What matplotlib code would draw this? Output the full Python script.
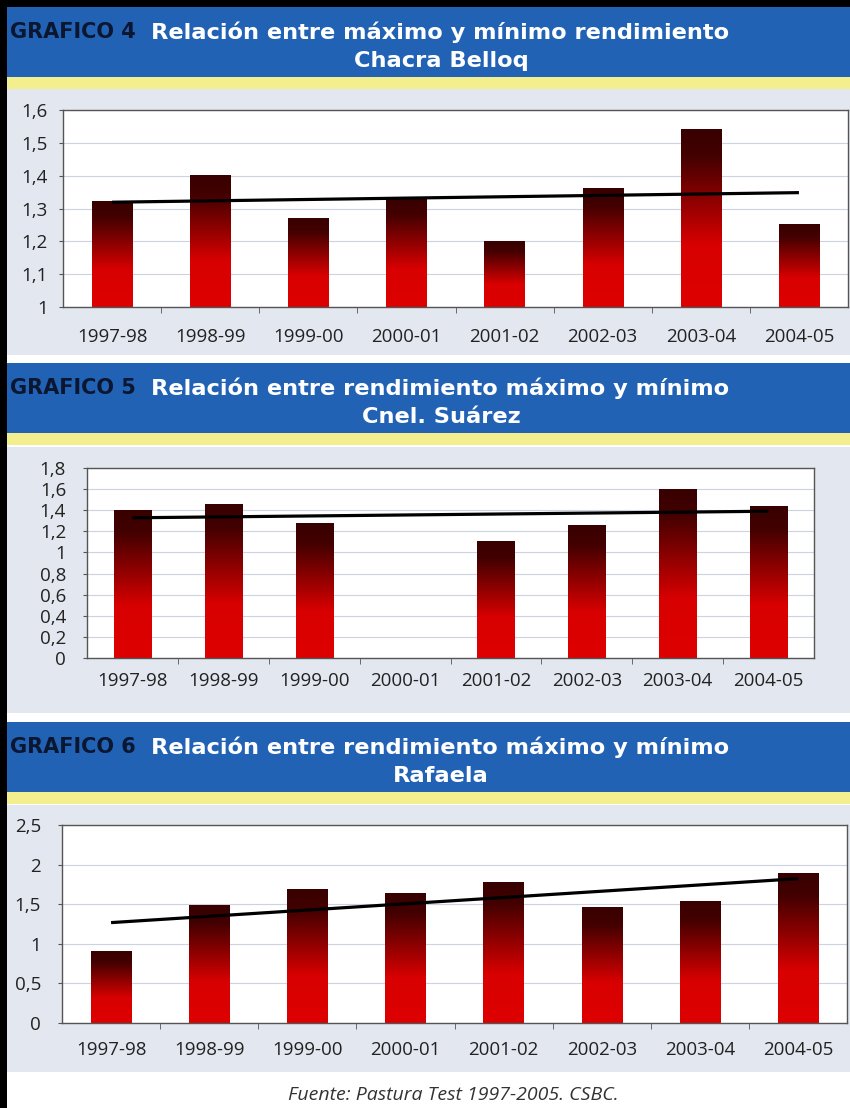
import numpy as np
import matplotlib.pyplot as plt
from matplotlib.colors import LinearSegmentedColormap
from matplotlib.patches import Rectangle

# Campaigns on the x axis
seasons = ["1997-98", "1998-99", "1999-00", "2000-01",
           "2001-02", "2002-03", "2003-04", "2004-05"]

# Ratio between maximum and minimum yield per site
belloq = [1.32, 1.40, 1.27, 1.33, 1.20, 1.36, 1.54, 1.25]
suarez = [1.40, 1.45, 1.27, np.nan, 1.10, 1.26, 1.60, 1.44]
rafaela = [0.90, 1.48, 1.68, 1.64, 1.78, 1.46, 1.53, 1.89]

W, H = 850, 1108
BLUE = "#2262b5"
YELLOW = "#f3ef8e"
PANEL = "#e3e7ef"

bar_cmap = LinearSegmentedColormap.from_list(
    "bar", [(0.0, "#de0000"), (0.35, "#d80000"), (0.62, "#870000"),
            (0.85, "#430000"), (1.0, "#380000")])

plt.rcParams["font.family"] = ["Open Sans", "DejaVu Sans"]
HEAD_FONT = ["DejaVu Sans"]


def fx(px):
    return px / W


def fy(py):
    return 1 - py / H


def box(fig, x0, y0, x1, y1, color):
    fig.add_artist(Rectangle((fx(x0), fy(y1)), fx(x1 - x0), (y1 - y0) / H,
                             transform=fig.transFigure, color=color,
                             lw=0, zorder=0))


def header(fig, top, number, line1, line2):
    box(fig, 0, top, W, top + 70, BLUE)
    box(fig, 0, top + 70, W, top + 82, YELLOW)
    fig.text(fx(10), fy(top + 25), number, color="#0b1630", fontsize=15,
             family=HEAD_FONT, fontweight="bold", va="center", ha="left")
    fig.text(fx(440), fy(top + 25), line1, color="white", fontsize=16.2,
             family=HEAD_FONT, fontweight="bold", va="center", ha="center")
    fig.text(fx(441), fy(top + 54), line2, color="white", fontsize=16.2,
             family=HEAD_FONT, fontweight="bold", va="center", ha="center")


def chart(fig, rect, values, ylim, yticks, ylabels, ypad, xpad):
    l, t, r, b = rect
    ax = fig.add_axes([fx(l), fy(b), fx(r - l), (b - t) / H])
    ax.set_facecolor("white")
    x = np.arange(len(seasons))
    vals = np.array(values, dtype=float)
    bars = ax.bar(x, np.nan_to_num(vals), width=0.41, color="none",
                  edgecolor="none", zorder=2)
    grad = np.linspace(0, 1, 256).reshape(-1, 1)
    base = max(ylim[0], 0)
    for bar, v in zip(bars, vals):
        if np.isnan(v):
            continue
        x0 = bar.get_x()
        ax.imshow(grad, cmap=bar_cmap, origin="lower", aspect="auto",
                  extent=[x0, x0 + bar.get_width(), base, v],
                  interpolation="bilinear", zorder=2)

    # linear trend through the available seasons
    ok = ~np.isnan(vals)
    k, c = np.polyfit(x[ok], vals[ok], 1)
    ax.plot([x[0], x[-1]], [k * x[0] + c, k * x[-1] + c], color="black",
            lw=2.3, zorder=3, solid_capstyle="butt")

    ax.set_xlim(-0.5, len(seasons) - 0.5)
    ax.set_ylim(*ylim)
    ax.set_yticks(yticks)
    ax.set_yticklabels(ylabels)
    ax.set_xticks(x)
    ax.set_xticklabels(seasons)
    ax.set_xticks(x[:-1] + 0.5, minor=True)
    ax.tick_params(axis="x", which="major", length=0, pad=xpad,
                   labelsize=13.5, labelcolor="#222222")
    ax.tick_params(axis="x", which="minor", length=4, color="#555555")
    ax.tick_params(axis="y", length=3, color="#555555", pad=ypad,
                   labelsize=13.5, labelcolor="#222222")
    ax.grid(axis="y", color="#cdd2e2", lw=0.8, zorder=1)
    ax.set_axisbelow(True)
    for s in ax.spines.values():
        s.set_color("#555555")
        s.set_linewidth(1.0)
    return ax


fig = plt.figure(figsize=(W / 100, H / 100), dpi=100)
fig.patch.set_facecolor("white")

# gray panels behind each chart
box(fig, 0, 88, W, 355, PANEL)
box(fig, 0, 447, W, 713, PANEL)
box(fig, 0, 805, W, 1072, PANEL)

header(fig, 7, "GRAFICO 4",
       "Relación entre máximo y mínimo rendimiento", "Chacra Belloq")
header(fig, 363, "GRAFICO 5",
       "Relación entre rendimiento máximo y mínimo", "Cnel. Suárez")
header(fig, 722, "GRAFICO 6",
       "Relación entre rendimiento máximo y mínimo", "Rafaela")

chart(fig, (63, 110, 848, 307), belloq, (1.0, 1.6),
      np.arange(1.0, 1.61, 0.1), ["1", "1,1", "1,2", "1,3", "1,4", "1,5", "1,6"],
      8, 15)
chart(fig, (87, 468, 814, 658), suarez, (0, 1.8),
      np.arange(0, 1.81, 0.2),
      ["0", "0,2", "0,4", "0,6", "0,8", "1", "1,2", "1,4", "1,6", "1,8"],
      12, 10)
chart(fig, (62, 825, 847, 1023), rafaela, (0, 2.5),
      np.arange(0, 2.51, 0.5), ["0", "0,5", "1", "1,5", "2", "2,5"],
      12, 13)

fig.text(fx(453), fy(1095), "Fuente: Pastura Test 1997-2005. CSBC.",
         fontsize=14, style="italic", color="#333333", ha="center",
         va="center")

# black frame on the top and left edges
box(fig, 0, 0, W, 7, "black")
box(fig, 0, 0, 7, H, "black")

fig.savefig("out.png", dpi=100)
